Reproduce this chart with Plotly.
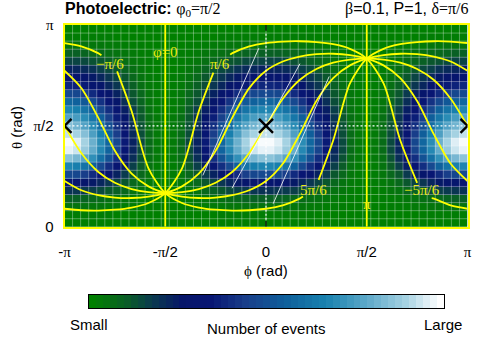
import math
import plotly.graph_objects as go

PI = math.pi
# heat values, one period of columns (phi -pi..0), rows from theta=pi down to 0; the picture repeats this period
heat_rows = [
 [0]*25,
 [1,1,1,1,1,1,0,0,0,0,0,0,0,0,0,0,0,0,0,1,1,1,1,1,1],
 [4,4,4,3,3,2,2,1,1,1,0,0,0,0,0,1,1,1,2,2,3,3,4,4,4],
 [9,9,8,7,6,5,4,3,2,1,1,0,0,0,1,1,2,3,4,5,6,7,8,9,9],
 [15,15,14,12,11,9,7,5,3,2,1,0,0,0,1,2,3,5,7,9,11,12,14,15,15],
 [23,22,21,19,16,14,11,8,5,3,1,0,0,0,1,3,5,8,11,14,16,19,21,22,23],
 [31,30,28,25,22,18,15,11,7,4,2,1,0,1,2,4,7,11,15,18,22,25,28,30,31],
 [38,37,35,31,27,22,18,13,9,5,2,1,0,1,2,5,9,13,18,22,27,31,35,37,38],
 [48,47,44,39,34,28,23,17,11,7,3,1,0,1,3,7,11,17,23,28,34,39,44,47,48],
 [58,56,53,48,41,34,27,20,13,8,3,1,0,1,3,8,13,20,27,34,41,48,53,56,58],
 [68,66,62,56,48,40,32,24,16,10,4,1,0,1,4,10,16,24,32,40,48,56,62,66,68],
 [77,75,70,63,55,45,36,27,18,11,5,2,0,2,5,11,18,27,36,45,55,63,70,75,77],
 [85,82,77,70,60,50,40,30,20,12,5,2,0,2,5,12,20,30,40,50,60,70,77,82,85],
 [93,90,85,76,66,55,44,33,21,13,6,2,0,2,6,13,21,33,44,55,66,76,85,90,93],
 [99,96,90,81,70,58,47,35,23,14,6,2,0,2,6,14,23,35,47,58,70,81,90,96,99],
 [97,94,88,80,69,57,46,34,22,14,6,2,0,2,6,14,22,34,46,57,69,80,88,94,97],
 [86,83,78,71,61,51,40,30,20,12,5,2,0,2,5,12,20,30,40,51,61,71,78,83,86],
 [68,66,62,56,48,40,32,24,16,10,4,1,0,1,4,10,16,24,32,40,48,56,62,66,68],
 [48,47,44,39,34,28,23,17,11,7,3,1,0,1,3,7,11,17,23,28,34,39,44,47,48],
 [31,30,28,25,22,18,15,11,7,4,2,1,0,1,2,4,7,11,15,18,22,25,28,30,31],
 [19,18,17,16,14,11,9,7,4,3,1,0,0,0,1,3,4,7,9,11,14,16,17,18,19],
 [9,9,8,7,6,5,4,3,2,1,1,0,0,0,1,1,2,3,4,5,6,7,8,9,9],
 [4,4,4,3,3,2,2,1,1,1,0,0,0,0,0,1,1,1,2,2,3,3,4,4,4],
 [1,1,1,1,1,1,0,0,0,0,0,0,0,0,0,0,0,0,0,1,1,1,1,1,1],
 [0]*25,
]
n_cols = 50
n_rows = len(heat_rows)
colorscale = [
 [0.00, "rgb(0,128,0)"], [0.04, "rgb(5,115,15)"], [0.10, "rgb(10,92,40)"], [0.17, "rgb(10,58,78)"],
 [0.26, "rgb(6,22,105)"], [0.34, "rgb(8,22,115)"], [0.44, "rgb(25,62,138)"], [0.555, "rgb(15,95,155)"],
 [0.67, "rgb(25,130,175)"], [0.80, "rgb(100,172,203)"], [0.90, "rgb(165,210,226)"], [0.96, "rgb(222,238,245)"],
 [1.00, "rgb(255,255,255)"],
]
legend_levels = list(range(0, 101, 2))

# yellow curves, phi in degrees and theta in radians; None marks the gaps left for labels
phi_deg = [-180,-165,-150,-135,-120,-105,-90,-75,-60,-45,-30,-15,0,15,30,45,60,75,90,105,120,135,150,165,180]
theta_mid = [1.571,1.149,.857,.685,.588,.539,.524,.539,.588,.685,.857,1.149,1.571,1.993,2.285,2.457,2.554,2.603,2.618,2.603,2.554,2.457,2.285,1.993,1.571]
theta_a = [.713,.569,.492,.455,.448,.469,.524,.629,.826,1.183,1.704,2.159,2.429,2.573,2.650,2.687,2.694,2.673,2.618,2.513,2.316,1.959,1.438,.982,.713]
theta_b = [2.429,2.160,1.704,1.183,.826,.629,.524,.469,.448,.455,.492,.569,.713,.982,1.438,1.959,2.316,2.513,2.618,2.673,2.694,2.687,2.650,2.573,2.429]
phi_c = [-180,-165,-150,-135,-120,-105,-90,-75,-60,-47,None,-32,-30,-15,0,15,30,45,60,75,90,105,120,135,None,148,150,165,180]
theta_c = [.281,.258,.253,.266,.300,.371,.524,.911,1.799,2.40,None,2.68,2.704,2.810,2.861,2.884,2.889,2.875,2.842,2.771,2.618,2.231,1.343,.685,None,.445,.438,.332,.281]
phi_d = [-180,-165,-150,-147,None,-133,-120,-105,-90,-75,-60,-45,-30,-15,0,15,30,33,None,47,60,75,90,105,120,135,150,165,180]
theta_d = [2.861,2.810,2.704,2.67,None,2.42,1.799,.911,.524,.371,.300,.266,.253,.258,.281,.332,.438,.47,None,.73,1.343,2.231,2.618,2.771,2.842,2.875,2.889,2.884,2.861]

# thin white lines (phi, theta in radians)
white_phi = [-.112,-.985,None,-.530,.530,None,.985,.112]
white_theta = [2.78,.80,None,.60,2.54,None,2.34,.36]

sp_font = "Liberation Sans"
se_font = "Liberation Serif"
YEL = "rgb(255,255,0)"
LAB = "rgb(235,235,20)"
W = 478.0
H = 338.0

def serif(t):
    return '<span style="font-family:Liberation Serif">%s</span>' % t

xc = [-PI + (j + .5) * 2 * PI / n_cols for j in range(n_cols)]
yc = [PI - (i + .5) * PI / n_rows for i in range(n_rows)]
z = [r + r for r in heat_rows]

fig = go.Figure()
fig.add_trace(go.Heatmap(x=xc, y=yc, z=z, zmin=0, zmax=100, colorscale=colorscale, hoverinfo="skip", showscale=False))

# translucent grid over the cell boundaries
gx, gy = [], []
for j in range(1, n_cols):
    v = -PI + j * 2 * PI / n_cols
    gx += [v, v, None]; gy += [0, PI, None]
for i in range(1, n_rows):
    v = i * PI / n_rows
    gx += [-PI, PI, None]; gy += [v, v, None]
fig.add_trace(go.Scatter(x=gx, y=gy, mode="lines", line=dict(color="rgba(255,255,255,0.33)", width=1), hoverinfo="skip"))

def rad(lst):
    return [None if d is None else d * PI / 180 for d in lst]

for px_, py_ in [(phi_deg, theta_mid), (phi_deg, theta_a), (phi_deg, theta_b), (phi_c, theta_c), (phi_d, theta_d)]:
    fig.add_trace(go.Scatter(x=rad(px_), y=py_, mode="lines", line=dict(color=YEL, width=1.8, shape="spline", smoothing=0.8), connectgaps=False, hoverinfo="skip"))
fig.add_trace(go.Scatter(x=[-PI/2, -PI/2, None, PI/2, PI/2], y=[0, PI, None, 0, PI], mode="lines", line=dict(color=YEL, width=1.8), hoverinfo="skip"))
fig.add_trace(go.Scatter(x=white_phi, y=white_theta, mode="lines", line=dict(color="rgba(255,255,255,0.8)", width=1), hoverinfo="skip"))
fig.add_trace(go.Scatter(x=[-PI, PI, None, 0, 0], y=[PI/2, PI/2, None, .11, 3.03], mode="lines", line=dict(color="white", width=1.1, dash="2px,2px"), hoverinfo="skip"))
fig.add_trace(go.Scatter(x=[0, 0, None, 0, 0], y=[0, .09, None, PI-.09, PI], mode="lines", line=dict(color="black", width=1.2), hoverinfo="skip"))
fig.add_trace(go.Scatter(x=[-PI, 0, PI], y=[PI/2, PI/2, PI/2], mode="markers", cliponaxis=True,
    marker=dict(symbol="x-thin", size=14, line=dict(color="black", width=2.4)), hoverinfo="skip"))

# legend strip
fig.add_trace(go.Heatmap(x=legend_levels, y=[0], z=[legend_levels], zmin=0, zmax=100, colorscale=colorscale,
                         showscale=False, hoverinfo="skip", xaxis="x2", yaxis="y2"))

def X(x): return x / W
def Y(y): return (H - y) / H

annots = []
def txt(x, y, t, size=15, font=sp_font, color="black", anchor="center", **kw):
    annots.append(dict(x=X(x), y=Y(y), xref="paper", yref="paper", text=t, showarrow=False, xanchor=anchor,
                       yanchor="middle", font=dict(family=font, size=size, color=color), **kw))

txt(63, 9, "<b>Photoelectric:</b> " + serif("φ<sub>0</sub>=π/2"), anchor="left", size=16)
txt(471, 9, serif("β") + "=0.1, P=1, " + serif("δ=π/6"), anchor="right", size=16)
txt(16, 127, serif("θ") + " (rad)", textangle=-90)
txt(266, 270, serif("ϕ") + " (rad)")
txt(89, 324, "Small")
txt(266, 328, "Number of events")
txt(443, 324, "Large")
for x_, y_, t in [(110, 64, "−π/6"), (220, 64, "π/6"), (313, 190, "5π/6"), (422, 190, "−5π/6"), (165, 52, "φ=0"), (367, 204, "π")]:
    txt(x_, y_, t, size=15, font=se_font, color=LAB)

fig.update_layout(width=478, height=338, margin=dict(l=0, r=0, t=0, b=0, autoexpand=False),
    paper_bgcolor="white", plot_bgcolor="white", showlegend=False, annotations=annots,
    font=dict(family=sp_font, size=15, color="black"),
    xaxis=dict(domain=[X(64.5), X(467.5)], range=[-PI, PI], tickvals=[-PI, -PI/2, 0, PI/2, PI],
               ticktext=["-" + serif("π"), "-" + serif("π") + "/2", "0", serif("π") + "/2", serif("π")],
               ticks="outside", ticklen=10, tickcolor="rgba(0,0,0,0)", showgrid=False, zeroline=False,
               showline=True, mirror=True, linecolor=YEL, linewidth=2),
    yaxis=dict(domain=[Y(226.8), Y(25)], range=[0, PI], tickvals=[0, PI/2, PI], ticktext=["0", serif("π") + "/2", serif("π")],
               ticks="outside", ticklen=6, tickcolor="rgba(0,0,0,0)", showgrid=False, zeroline=False,
               showline=True, mirror=True, linecolor=YEL, linewidth=2),
    xaxis2=dict(domain=[X(89), X(444)], anchor="y2", range=[-1, 101], showticklabels=False, ticks="",
                showgrid=False, zeroline=False, showline=True, mirror=True, linecolor="black", linewidth=1),
    yaxis2=dict(domain=[Y(308), Y(295)], anchor="x2", range=[-.5, .5], showticklabels=False, ticks="",
                showgrid=False, zeroline=False, showline=True, mirror=True, linecolor="black", linewidth=1))
fig.write_html("out.html", config=dict(displayModeBar=False), post_script="document.body.style.margin='0';")
